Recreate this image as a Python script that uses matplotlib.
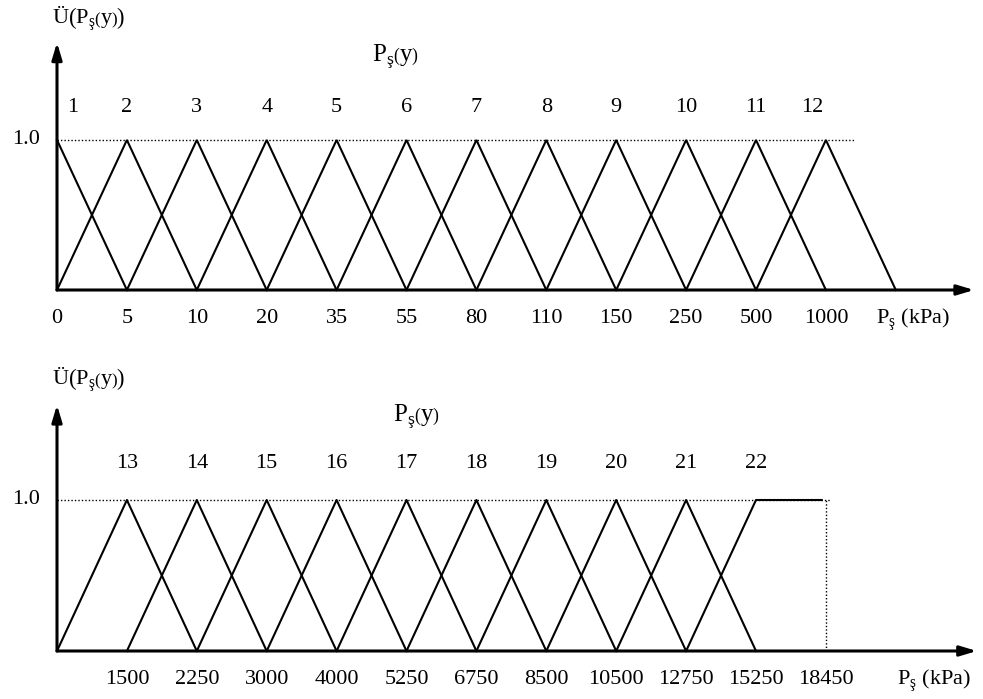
import matplotlib
matplotlib.use("Agg")
import matplotlib.pyplot as plt

plt.rcParams['font.family'] = ['Liberation Serif', 'DejaVu Serif']
plt.rcParams['mathtext.fontset'] = 'custom'
plt.rcParams['mathtext.rm'] = 'Liberation Serif'
plt.rcParams['mathtext.it'] = 'Liberation Serif:italic'

# ---- data ----
top_ticks = ["0", "5", "10", "20", "35", "55", "80", "110", "150", "250", "500", "1000"]
top_sets = ["1", "2", "3", "4", "5", "6", "7", "8", "9", "10", "11", "12"]
bot_ticks = ["1500", "2250", "3000", "4000", "5250", "6750", "8500", "10500", "12750", "15250", "18450"]
bot_sets = ["13", "14", "15", "16", "17", "18", "19", "20", "21", "22"]

W, H = 983, 699
fig = plt.figure(figsize=(W / 100, H / 100), dpi=100)

x0, dx = 57, 69.9
xlim = (-x0 / dx, (W - x0) / dx)

def make_ax(top_px, bot_px, base_px, unit_px):
    ax = fig.add_axes([0, 1 - bot_px / H, 1, (bot_px - top_px) / H])
    ax.set_xlim(*xlim)
    ax.set_ylim((base_px - bot_px) / unit_px, (base_px - top_px) / unit_px)
    ax.axis('off')
    return ax

ylab = r"Ü$\left(\mathrm{P}_{\mathrm{ş}}\left(\mathrm{y}\right)\right)$"
plab = r"$\mathrm{P}_{\mathrm{ş}}\left(\mathrm{y}\right)$"
klab = r"$\mathrm{P}_{\mathrm{ş}}$ (kPa)"
lc = 'black'
fs = 16

def axes_arrows(ax, xend, ytop):
    ax.annotate("", xy=(xend, 0), xytext=(0, 0),
                arrowprops=dict(arrowstyle='-|>,head_length=1.0,head_width=0.3', lw=2.2, color=lc,
                                shrinkA=0, shrinkB=0))
    ax.annotate("", xy=(0, ytop), xytext=(0, 0),
                arrowprops=dict(arrowstyle='-|>,head_length=1.0,head_width=0.3', lw=2.2, color=lc,
                                shrinkA=0, shrinkB=0))

# ---- top panel ----
ax1 = make_ax(0, 345, 290, 150)
n = len(top_sets)
for i in range(n):
    xs = [i - 1, i, i + 1]
    ys = [0, 1, 0]
    if i == 0:
        xs, ys = xs[1:], ys[1:]
    ax1.plot(xs, ys, color=lc, lw=1.5, solid_joinstyle='miter')
ax1.plot([0, 11.42], [1, 1], color=lc, lw=1.0, ls=(0, (1, 1.5)))
axes_arrows(ax1, 13.12, 1.65)
for i, t in enumerate(top_ticks):
    ax1.text(i, -0.19, t, ha='center', va='center', fontsize=fs)
for i, s in enumerate(top_sets):
    off = 0.22 if i == 0 else (-0.2 if i == n - 1 else 0)
    ax1.text(i + off, 1.22, s, ha='center', va='center', fontsize=fs)
ax1.text(-0.24, 1.0, "1.0", ha='right', va='center', fontsize=fs)
ax1.text(-0.07, 1.81, ylab, ha='left', va='center', fontsize=16)
ax1.text(4.5, 1.55, plab, ha='left', va='center', fontsize=18)
ax1.text(12.25, -0.2, klab, ha='center', va='center', fontsize=fs)

# ---- bottom panel ----
ax2 = make_ax(345, H, 651, 151)
m = len(bot_sets)
for j in range(m):
    p = j + 1
    if j == m - 1:
        ax2.plot([p - 1, p, 10.94], [0, 1, 1], color=lc, lw=1.5)
    else:
        ax2.plot([p - 1, p, p + 1], [0, 1, 0], color=lc, lw=1.5)
ax2.plot([0, 11.06], [1, 1], color=lc, lw=1.0, ls=(0, (1, 1.5)))
ax2.plot([11, 11], [0, 1], color=lc, lw=1.0, ls=(0, (1, 1.5)))
axes_arrows(ax2, 13.16, 1.63)
for i, t in enumerate(bot_ticks):
    ax2.text(i + 1, -0.19, t, ha='center', va='center', fontsize=fs)
for j, s in enumerate(bot_sets):
    ax2.text(j + 1, 1.24, s, ha='center', va='center', fontsize=fs)
ax2.text(-0.24, 1.0, "1.0", ha='right', va='center', fontsize=fs)
ax2.text(-0.07, 1.8, ylab, ha='left', va='center', fontsize=16)
ax2.text(4.8, 1.55, plab, ha='left', va='center', fontsize=18)
ax2.text(12.55, -0.2, klab, ha='center', va='center', fontsize=fs)

fig.savefig("out.png", dpi=100)
